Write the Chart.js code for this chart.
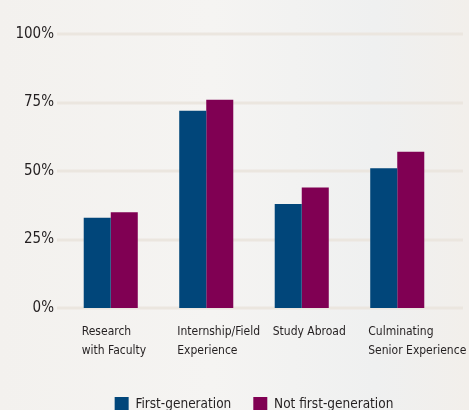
<!DOCTYPE html>
<html>
<head>
<meta charset="utf-8">
<script src="https://cdn.jsdelivr.net/npm/chart.js@4.4.1/dist/chart.umd.min.js"></script>
<style>
  html, body { margin: 0; padding: 0; overflow: hidden; }
  body {
    width: 469px; height: 410px;
    background: linear-gradient(90deg, #f3f1ee 0%, #f5f4f2 45%, #eff0f0 80%, #f2efeb 100%);
  }
  #wrap { position: relative; width: 469px; height: 421px; }
</style>
</head>
<body>
<div id="wrap"><canvas id="myChart"></canvas></div>
<script>
  let categories = [
    ['Research', 'with Faculty'],
    ['Internship/Field', 'Experience'],
    ['Study Abroad'],
    ['Culminating', 'Senior Experience']
  ];
  let firstGen = [33, 72, 38, 51];
  let notFirstGen = [35, 76, 44, 57];
  let yTicks = [0, 25, 50, 75, 100];

  let fontFamily = "'DejaVu Sans Condensed', 'Liberation Sans Narrow', sans-serif";

  // horizontal guide lines, a bit wider than the plot area
  let guideLines = {
    id: 'guideLines',
    beforeDatasetsDraw(chart) {
      let ctx = chart.ctx;
      let y = chart.scales.y;
      ctx.save();
      ctx.strokeStyle = '#ebe6df';
      ctx.lineWidth = 3;
      for (let t of yTicks) {
        let py = Math.round(y.getPixelForValue(t));
        ctx.beginPath();
        ctx.moveTo(57, py);
        ctx.lineTo(463, py);
        ctx.stroke();
      }
      ctx.restore();
    }
  };

  let chartData = {
    labels: categories,
    datasets: [{
      label: 'First-generation',
      data: firstGen,
      backgroundColor: '#01467a',
      borderWidth: 0,
      categoryPercentage: 0.566,
      barPercentage: 1
    }, {
      label: 'Not first-generation',
      data: notFirstGen,
      backgroundColor: '#800053',
      borderWidth: 0,
      categoryPercentage: 0.566,
      barPercentage: 1
    }]
  };

  new Chart(document.getElementById('myChart'), {
    type: 'bar',
    data: chartData,
    plugins: [guideLines],
    options: {
      responsive: true,
      maintainAspectRatio: false,
      animation: false,
      layout: { padding: { top: 34, right: 24, left: 0, bottom: 0 } },
      plugins: {
        tooltip: { enabled: false },
        legend: {
          position: 'bottom',
          fullSize: false,
          labels: {
            color: '#231f20',
            font: { family: fontFamily, size: 13.5 },
            boxWidth: 14,
            boxHeight: 14,
            padding: 22
          }
        }
      },
      scales: {
        x: {
          afterFit: function(axis) {
            // labels hang past the right edge, don't let that squeeze the plot
            axis.paddingLeft = 0;
            axis.paddingRight = 0;
          },
          grid: { display: false, drawTicks: false },
          border: { display: false },
          ticks: {
            color: '#231f20',
            font: { family: fontFamily, size: 12, lineHeight: 1.62 },
            align: 'start',
            labelOffset: -29,
            padding: 14,
            autoSkip: false,
            maxRotation: 0
          }
        },
        y: {
          min: 0,
          max: 100,
          afterFit: function(axis) { axis.width = 63; },
          grid: { display: false, drawTicks: false },
          border: { display: false },
          ticks: {
            stepSize: 25,
            color: '#231f20',
            padding: 9,
            font: { family: fontFamily, size: 15 },
            callback: function(value, index, ticks) {
              return value + '%';
            }
          }
        }
      }
    }
  });
</script>
</body>
</html>
